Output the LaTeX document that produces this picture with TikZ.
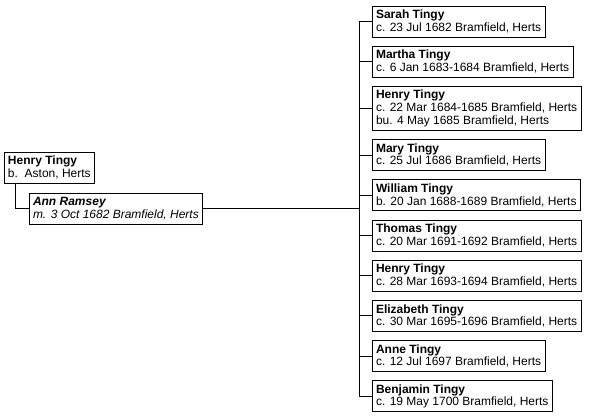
\documentclass[tikz,border=0pt]{standalone}
\usepackage{fontspec}
\setmainfont{Liberation Sans}
\usetikzlibrary{positioning}
\tikzset{
  person/.style={draw, line width=0.9pt, align=left, inner xsep=4pt, inner ysep=0pt, outer sep=0pt,
                 minimum height=31pt, font=\fontsize{12}{12.6}\selectfont},
  spouse/.style={person, font=\fontsize{12}{12.6}\selectfont\itshape},
  link/.style={line width=0.9pt}
}

\begin{document}
\begin{tikzpicture}[x=1pt, y=-1pt, node distance=9.2pt]
    \useasboundingbox (0,0) rectangle (594,419);
    % parents
    \node[person, anchor=north west] (father) at (4,152) {\textbf{Henry Tingy}\\b.\ \ Aston, Herts};
    \node[spouse, anchor=north west] (ann) at (29,193) {\textbf{Ann Ramsey}\\m. 3 Oct 1682 Bramfield, Herts};
    % children
    \node[person, anchor=north west] (sarah) at (372,6) {\textbf{Sarah Tingy}\\c. 23 Jul 1682 Bramfield, Herts};
    \node[person, below=of sarah.south west, anchor=north west] (martha) {\textbf{Martha Tingy}\\c. 6 Jan 1683-1684 Bramfield, Herts};
    \node[person, below=of martha.south west, anchor=north west, minimum height=44pt] (henry) {\textbf{Henry Tingy}\\c. 22 Mar 1684-1685 Bramfield, Herts\\bu. 4 May 1685 Bramfield, Herts};
    \node[person, below=of henry.south west, anchor=north west] (mary) {\textbf{Mary Tingy}\\c. 25 Jul 1686 Bramfield, Herts};
    \node[person, below=of mary.south west, anchor=north west] (william) {\textbf{William Tingy}\\b. 20 Jan 1688-1689 Bramfield, Herts};
    \node[person, below=of william.south west, anchor=north west] (thomas) {\textbf{Thomas Tingy}\\c. 20 Mar 1691-1692 Bramfield, Herts};
    \node[person, below=of thomas.south west, anchor=north west] (henryb) {\textbf{Henry Tingy}\\c. 28 Mar 1693-1694 Bramfield, Herts};
    \node[person, below=of henryb.south west, anchor=north west] (elizabeth) {\textbf{Elizabeth Tingy}\\c. 30 Mar 1695-1696 Bramfield, Herts};
    \node[person, below=of elizabeth.south west, anchor=north west] (anne) {\textbf{Anne Tingy}\\c. 12 Jul 1697 Bramfield, Herts};
    \node[person, below=of anne.south west, anchor=north west] (benjamin) {\textbf{Benjamin Tingy}\\c. 19 May 1700 Bramfield, Herts};
    \coordinate (drop) at (15.7,0);
    \coordinate (trunk) at (359.3,0);
    % lines
    \draw[link] (father.south -| drop) |- (ann.west);
    \draw[link] (ann.east) -- (ann.east -| trunk);
    \draw[link] (sarah.west -| trunk) -- (benjamin.west -| trunk);
    \draw[link] (sarah.west -| trunk) -- (sarah.west);
    \draw[link] (martha.west -| trunk) -- (martha.west);
    \draw[link] (henry.west -| trunk) -- (henry.west);
    \draw[link] (mary.west -| trunk) -- (mary.west);
    \draw[link] (william.west -| trunk) -- (william.west);
    \draw[link] (thomas.west -| trunk) -- (thomas.west);
    \draw[link] (henryb.west -| trunk) -- (henryb.west);
    \draw[link] (elizabeth.west -| trunk) -- (elizabeth.west);
    \draw[link] (anne.west -| trunk) -- (anne.west);
    \draw[link] (benjamin.west -| trunk) -- (benjamin.west);
\end{tikzpicture}
\end{document}
